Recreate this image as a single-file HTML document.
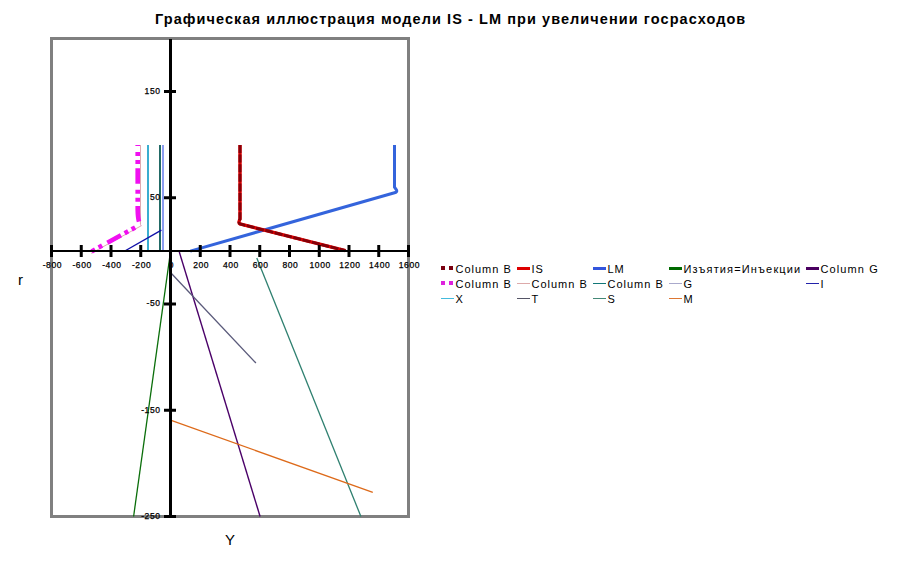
<!DOCTYPE html>
<html><head><meta charset="utf-8"><style>
html,body{margin:0;padding:0;background:#fff;width:903px;height:572px;overflow:hidden;position:relative;font-family:"Liberation Sans",sans-serif}
.title{position:absolute;left:155px;top:11px;font-weight:bold;font-size:14.5px;white-space:nowrap;letter-spacing:1.07px;color:#000}
.xl{position:absolute;-webkit-text-stroke:0.25px #000;top:260px;width:40px;text-align:center;font-size:8.5px;line-height:10px;letter-spacing:0.6px;color:#000}
.yl{position:absolute;-webkit-text-stroke:0.25px #000;left:120.6px;width:40px;text-align:right;font-size:8.5px;line-height:12px;letter-spacing:0.6px;color:#000}
.lt{position:absolute;font-size:11px;line-height:14px;white-space:nowrap;color:#000}
.ax{position:absolute;font-size:15px;color:#000}
</style></head><body>
<div class="title">Графическая иллюстрация модели IS - LM при увеличении госрасходов</div>
<svg width="903" height="572" style="position:absolute;left:0;top:0"><rect x="51.5" y="38.5" width="357" height="478" fill="none" stroke="#808080" stroke-width="3"/><path d="M256.8,258 L360.9,516.5" stroke="#2f8070" stroke-width="1.3" fill="none"/><path d="M170.6,251 L133.6,516.5" stroke="#0a6e0a" stroke-width="1.3" fill="none"/><path d="M179.3,252 L260.1,516.5" stroke="#4a0068" stroke-width="1.4" fill="none"/><path d="M170.5,272.5 L255.9,363" stroke="#5a5a7a" stroke-width="1.3" fill="none"/><path d="M170.5,420.2 L372.8,492.3" stroke="#dd6a1a" stroke-width="1.3" fill="none"/><path d="M148,145 L148,251" stroke="#3aaed0" stroke-width="2" fill="none"/><path d="M160,145 L160,251" stroke="#226a66" stroke-width="2" fill="none"/><path d="M163,145 L163,251" stroke="#8c9cf0" stroke-width="2" fill="none"/><path d="M124.8,251 L161.4,230.1" stroke="#1010a8" stroke-width="1.4" fill="none"/><path d="M140.5,145 L140.5,224.5 L141.2,225.8 L91.2,253.3" stroke="#e0a8b0" stroke-width="1" fill="none"/><path d="M137.7,145 L137.7,210 Q138,222 140.5,224.5" stroke="#f010f0" stroke-width="4.6" fill="none" stroke-dasharray="15.5 6 4 4 4 4.2" stroke-dashoffset="14.4"/><path d="M140.5,224.5 L90.5,252" stroke="#f010f0" stroke-width="4.6" fill="none" stroke-dasharray="15.5 6 4 4 4 4.2" stroke-dashoffset="15.4"/><path d="M190.3,251.1 L394.5,192.8 Q397.3,192 396.6,190.2 L394.5,187.2 L394.5,145" stroke="#3464dc" stroke-width="3" fill="none" stroke-linejoin="round"/><path d="M240,145 L240,219 Q238,223 240,224 L345.5,250.7" stroke="#dd0000" stroke-width="3.4" fill="none"/><path d="M240,145 L240,219 Q238,223 240,224 L345.5,250.7" stroke="#850008" stroke-width="2.9" fill="none" stroke-dasharray="8 1.6"/><line x1="50" y1="251" x2="410" y2="251" stroke="#000" stroke-width="2"/><line x1="170.5" y1="39" x2="170.5" y2="517" stroke="#000" stroke-width="3"/><line x1="51.50" y1="245" x2="51.50" y2="257" stroke="#000" stroke-width="3"/><line x1="81.25" y1="245" x2="81.25" y2="257" stroke="#000" stroke-width="3"/><line x1="111.00" y1="245" x2="111.00" y2="257" stroke="#000" stroke-width="3"/><line x1="140.75" y1="245" x2="140.75" y2="257" stroke="#000" stroke-width="3"/><line x1="170.50" y1="245" x2="170.50" y2="257" stroke="#000" stroke-width="3"/><line x1="200.25" y1="245" x2="200.25" y2="257" stroke="#000" stroke-width="3"/><line x1="230.00" y1="245" x2="230.00" y2="257" stroke="#000" stroke-width="3"/><line x1="259.75" y1="245" x2="259.75" y2="257" stroke="#000" stroke-width="3"/><line x1="289.50" y1="245" x2="289.50" y2="257" stroke="#000" stroke-width="3"/><line x1="319.25" y1="245" x2="319.25" y2="257" stroke="#000" stroke-width="3"/><line x1="349.00" y1="245" x2="349.00" y2="257" stroke="#000" stroke-width="3"/><line x1="378.75" y1="245" x2="378.75" y2="257" stroke="#000" stroke-width="3"/><line x1="408.50" y1="245" x2="408.50" y2="257" stroke="#000" stroke-width="3"/><line x1="164" y1="91.50" x2="176" y2="91.50" stroke="#000" stroke-width="3"/><line x1="164" y1="197.75" x2="176" y2="197.75" stroke="#000" stroke-width="3"/><line x1="164" y1="304.00" x2="176" y2="304.00" stroke="#000" stroke-width="3"/><line x1="164" y1="410.25" x2="176" y2="410.25" stroke="#000" stroke-width="3"/><line x1="164" y1="516.50" x2="176" y2="516.50" stroke="#000" stroke-width="3"/></svg>
<div class="xl" style="left:32.40px">-800</div><div class="xl" style="left:62.15px">-600</div><div class="xl" style="left:91.90px">-400</div><div class="xl" style="left:121.65px">-200</div><div class="xl" style="left:151.40px">0</div><div class="xl" style="left:181.15px">200</div><div class="xl" style="left:210.90px">400</div><div class="xl" style="left:240.65px">600</div><div class="xl" style="left:270.40px">800</div><div class="xl" style="left:300.15px">1000</div><div class="xl" style="left:329.90px">1200</div><div class="xl" style="left:359.65px">1400</div><div class="xl" style="left:389.40px">1600</div><div class="yl" style="top:84.80px">150</div><div class="yl" style="top:191.05px">50</div><div class="yl" style="top:297.30px">-50</div><div class="yl" style="top:403.55px">-150</div><div class="yl" style="top:509.80px">-250</div>
<div style="position:absolute;left:441px;top:266px;width:4px;height:4px;background:#7a0010"></div><div style="position:absolute;left:449px;top:266px;width:4px;height:4px;background:#7a0010"></div><div class="lt" style="left:455.5px;top:262px;letter-spacing:1.0px">Column B</div><div style="position:absolute;left:517px;top:266.5px;width:12.5px;height:3px;background:#dd0000"></div><div class="lt" style="left:531.5px;top:262px;letter-spacing:0.9px">IS</div><div style="position:absolute;left:593px;top:266.5px;width:12.5px;height:3px;background:#3355dd"></div><div class="lt" style="left:607.5px;top:262px;letter-spacing:0.9px">LM</div><div style="position:absolute;left:669px;top:266.5px;width:12.5px;height:3px;background:#006a00"></div><div class="lt" style="left:683.5px;top:262px;letter-spacing:1.15px">Изъятия=Инъекции</div><div style="position:absolute;left:806px;top:266.5px;width:12.5px;height:3px;background:#4a0060"></div><div class="lt" style="left:820.5px;top:262px;letter-spacing:1.1px">Column G</div><div style="position:absolute;left:441px;top:281px;width:4px;height:4px;background:#dd22dd"></div><div style="position:absolute;left:449px;top:281px;width:4px;height:4px;background:#dd22dd"></div><div class="lt" style="left:455.5px;top:277px;letter-spacing:1.0px">Column B</div><div style="position:absolute;left:517px;top:283px;width:12.5px;height:1px;background:#ddaaaa"></div><div class="lt" style="left:531.5px;top:277px;letter-spacing:1.0px">Column B</div><div style="position:absolute;left:593px;top:283px;width:12.5px;height:1px;background:#117777"></div><div class="lt" style="left:607.5px;top:277px;letter-spacing:1.0px">Column B</div><div style="position:absolute;left:669px;top:283px;width:12.5px;height:1px;background:#aaaacc"></div><div class="lt" style="left:683.5px;top:277px;letter-spacing:0.9px">G</div><div style="position:absolute;left:806px;top:283px;width:12.5px;height:1px;background:#2222aa"></div><div class="lt" style="left:820.5px;top:277px;letter-spacing:0.9px">I</div><div style="position:absolute;left:441px;top:298px;width:12.5px;height:1px;background:#44bbdd"></div><div class="lt" style="left:455.5px;top:292px;letter-spacing:0.9px">X</div><div style="position:absolute;left:517px;top:298px;width:12.5px;height:1px;background:#555566"></div><div class="lt" style="left:531.5px;top:292px;letter-spacing:0.9px">T</div><div style="position:absolute;left:593px;top:298px;width:12.5px;height:1px;background:#448877"></div><div class="lt" style="left:607.5px;top:292px;letter-spacing:0.9px">S</div><div style="position:absolute;left:669px;top:298px;width:12.5px;height:1px;background:#dd7733"></div><div class="lt" style="left:683.5px;top:292px;letter-spacing:0.9px">M</div>
<div class="ax" style="left:18px;top:271px">r</div>
<div class="ax" style="left:225px;top:531px">Y</div>
</body></html>
